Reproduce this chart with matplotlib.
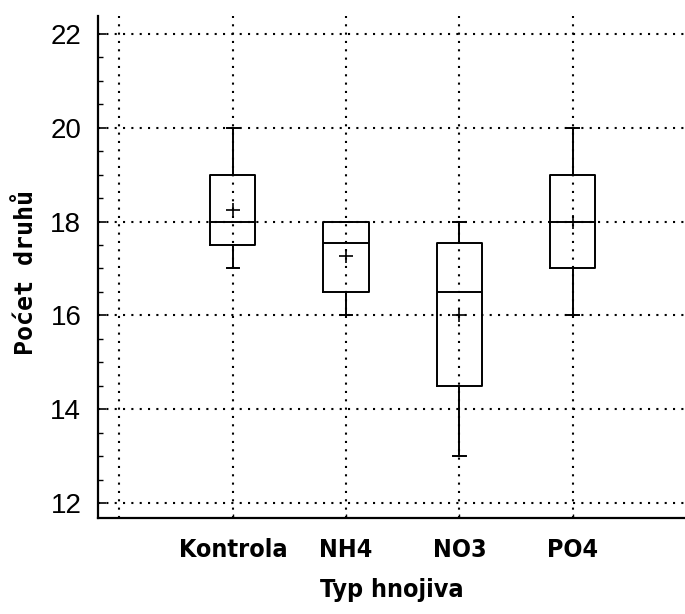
import matplotlib
matplotlib.use('Agg')
import matplotlib.pyplot as plt
from matplotlib.ticker import MultipleLocator, FixedLocator

# box plot summary per fertiliser type
categories = ['Kontrola', 'NH4', 'NO3', 'PO4']
whislo = [17.0, 16.0, 13.0, 16.0]
q1 = [17.5, 16.5, 14.5, 17.0]
med = [18.0, 17.55, 16.5, 18.0]
q3 = [19.0, 18.0, 17.55, 19.0]
whishi = [20.0, 18.0, 18.0, 20.0]
means = [18.25, 17.27, 16.0, 18.0]

stats = []
for i in range(len(categories)):
    stats.append({'label': categories[i], 'whislo': whislo[i], 'q1': q1[i],
                  'med': med[i], 'q3': q3[i], 'whishi': whishi[i],
                  'mean': means[i], 'fliers': []})

narrow = ['DejaVu Sans']

fig = plt.figure(figsize=(6.85, 6.14), dpi=100)
ax = fig.add_axes([0.143, 0.156, 0.857, 0.818])

lw = 1.4
ax.bxp(stats, positions=range(1, len(categories) + 1), widths=0.4,
       showmeans=True, showfliers=False, patch_artist=False,
       boxprops=dict(color='black', linewidth=lw),
       whiskerprops=dict(color='black', linewidth=lw),
       capprops=dict(color='black', linewidth=lw),
       medianprops=dict(color='black', linewidth=lw),
       meanprops=dict(marker='+', markeredgecolor='black', markersize=10,
                      markeredgewidth=1.2),
       capwidths=0.11)

ax.set_ylim(11.68, 22.38)
ax.set_xlim(-0.19, 4.99)

ax.yaxis.set_major_locator(MultipleLocator(2))
ax.yaxis.set_minor_locator(MultipleLocator(0.5))
ax.set_xticks(range(1, len(categories) + 1))
ax.set_xticklabels(categories)
ax.xaxis.set_minor_locator(FixedLocator([0]))

ax.tick_params(axis='y', which='major', direction='in', length=6, width=1.2,
               pad=12, labelsize=20)
ax.tick_params(axis='y', which='minor', direction='in', length=3.5, width=1.0)
ax.tick_params(axis='x', which='major', direction='in', length=3, width=1.0,
               pad=14)
ax.tick_params(axis='x', which='minor', length=0)
for t in ax.get_yticklabels():
    t.set_family(['Liberation Sans', 'DejaVu Sans'])
for t in ax.get_xticklabels():
    t.set_family(narrow)
    t.set_fontstretch('condensed')
    t.set_fontweight('bold')
    t.set_fontsize(18)

ax.grid(True, which='major', axis='y', color='black', linestyle=(0, (1, 3)),
        linewidth=1.5)
ax.grid(True, which='both', axis='x', color='black', linestyle=(0, (1, 3)),
        linewidth=1.5)
ax.set_axisbelow(True)

for s in ['top', 'right']:
    ax.spines[s].set_visible(False)
for s in ['left', 'bottom']:
    ax.spines[s].set_linewidth(1.6)

ax.set_xlabel('Typ hnojiva', family=narrow, fontstretch='condensed',
              fontweight='bold', fontsize=18, labelpad=12)
ax.set_ylabel('Poćet druhů', family=['DejaVu Sans Mono'], fontweight='bold',
              fontsize=18)
ax.yaxis.set_label_coords(-0.102, 0.49)

fig.savefig('out.png', dpi=100)
